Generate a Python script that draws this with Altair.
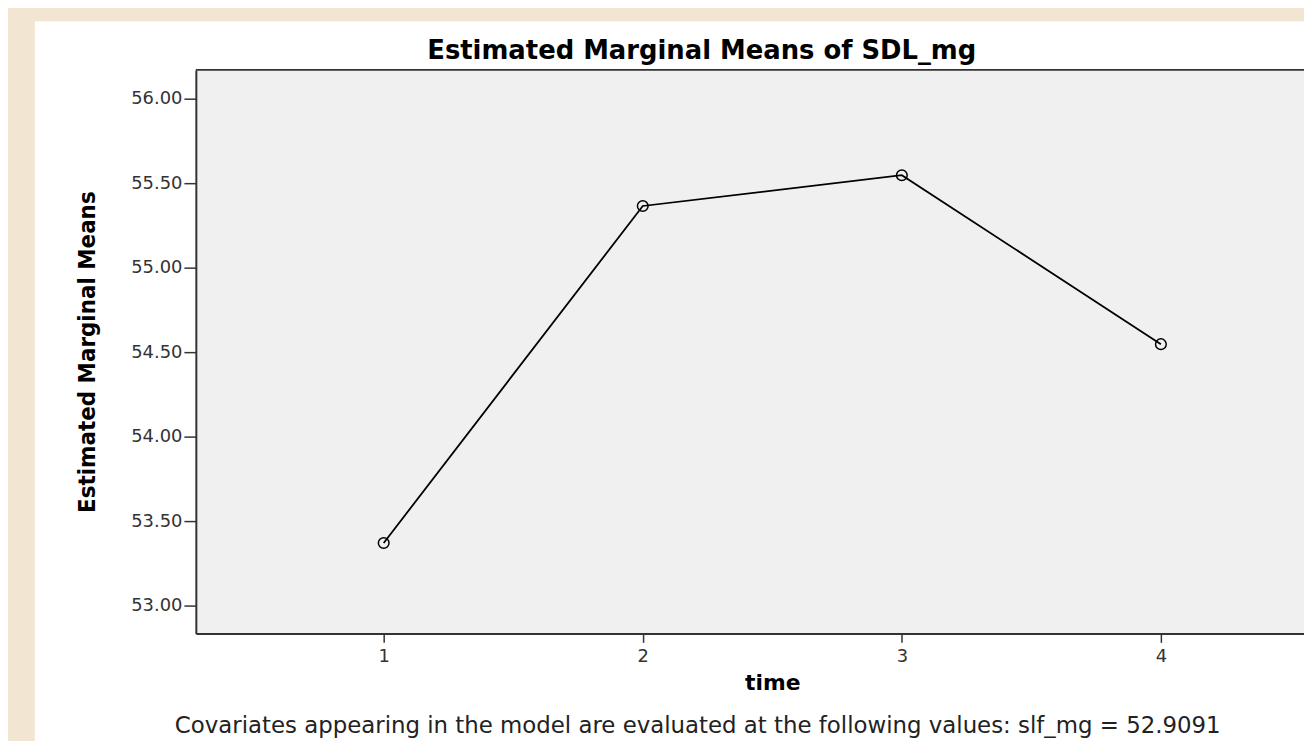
import altair as alt
import pandas as pd

# ---- data ----
time_vals = [1, 2, 3, 4]
mean_vals = [53.37, 55.365, 55.547, 54.547]
x_ticks = [1, 2, 3, 4]
y_ticks = [53.0, 53.5, 54.0, 54.5, 55.0, 55.5, 56.0]
chart_title = ["Estimated Marginal Means of SDL_mg"]
y_title = "Estimated Marginal Means"
x_title = "time"
caption_text = ["Covariates appearing in the model are evaluated at the following values: slf_mg = 52.9091"]

W, H = 1115, 567

df = pd.DataFrame({"time": time_vals, "mean": mean_vals})
one = pd.DataFrame({"k": [0]})
cap_df = pd.DataFrame({"t": caption_text})
title_df = pd.DataFrame({"t": chart_title})

x_enc = alt.X(
    "time:Q",
    scale=alt.Scale(domain=[0.2749, 4.5524], nice=False, zero=False),
    axis=alt.Axis(
        values=x_ticks, format="d", title=x_title, grid=False,
        labelFont="DejaVu Sans", labelFontSize=18, labelColor="#333333",
        tickSize=9, tickColor="#333333", tickWidth=1.5,
        domainColor="#333333", domainWidth=2, labelPadding=5,
        titleFont="DejaVu Sans", titleFontSize=22, titleFontWeight="bold",
        titleColor="#000000", titleX=580, titlePadding=7, zindex=1,
    ),
)
y_enc = alt.Y(
    "mean:Q",
    scale=alt.Scale(domain=[52.835, 56.1706], nice=False, zero=False),
    axis=alt.Axis(
        values=y_ticks, format=".2f", title=y_title, grid=False,
        labelFont="DejaVu Sans", labelFontSize=18, labelColor="#333333",
        tickSize=12, tickColor="#333333", tickWidth=1.5,
        domainColor="#333333", domainWidth=2, labelPadding=2,
        titleFont="Liberation Sans Narrow, DejaVu Sans Condensed, Roboto, sans-serif",
        titleFontSize=24, titleFontWeight="bold",
        titleColor="#000000", titlePadding=31, zindex=1,
    ),
)

panel = alt.Chart(one).mark_rect(color="#ffffff").encode(
    x=alt.value(-162), x2=alt.value(W + 60), y=alt.value(-49), y2=alt.value(H + 200)
)
plot_bg = alt.Chart(one).mark_rect(color="#f0f0f0").encode(
    x=alt.value(0), x2=alt.value(W), y=alt.value(0), y2=alt.value(H)
)
top_border = alt.Chart(one).mark_rule(color="#333333", strokeWidth=2).encode(
    x=alt.value(0), x2=alt.value(W), y=alt.value(0)
)
line = alt.Chart(df).mark_line(color="#000000", strokeWidth=1.8).encode(x=x_enc, y=y_enc)
pts = alt.Chart(df).mark_point(
    shape="circle", filled=False, size=115, color="#000000", strokeWidth=1.5, opacity=1
).encode(x=x_enc, y=y_enc)
title_mark = alt.Chart(title_df).mark_text(
    align="center", baseline="alphabetic", font="DejaVu Sans", fontSize=26,
    fontWeight="bold", color="#000000"
).encode(x=alt.value(509), y=alt.value(-11), text="t:N")
caption = alt.Chart(cap_df).mark_text(
    align="center", baseline="alphabetic", font="DejaVu Sans", fontSize=23, color="#222222"
).encode(x=alt.value(505), y=alt.value(667), text="t:N")

chart = alt.layer(panel, plot_bg, top_border, line, pts, title_mark, caption).properties(
    width=W, height=H,
    autosize=alt.AutoSizeParams(type="none"),
    padding={"left": 189, "top": 60, "right": 0, "bottom": 106},
).configure(background="#f2e6d3").configure_view(stroke="transparent")

chart.save("out.html", embed_options={"renderer": "svg", "actions": False})
